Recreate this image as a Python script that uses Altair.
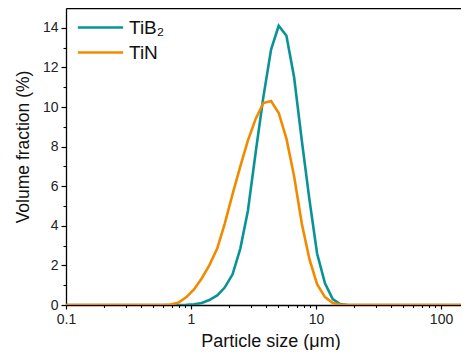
import altair as alt
import pandas as pd

# particle size bins (µm)
sizes = [0.1, 0.6, 0.69, 0.8, 0.92, 1.06, 1.22, 1.4, 1.62, 1.86, 2.15, 2.48, 2.85,
         3.29, 3.79, 4.37, 5.03, 5.8, 6.68, 7.7, 8.87, 10.2, 11.8, 13.6, 15.6, 18.0, 170]
# volume fraction (%)
tib2 = [0, 0, 0, 0, 0.01, 0.04, 0.1, 0.25, 0.48, 0.88, 1.55, 2.85, 4.75,
        7.7, 10.5, 12.9, 14.1, 13.6, 11.5, 8.3, 5.3, 2.6, 1.1, 0.3, 0.05, 0, 0]
tin = [0, 0, 0.02, 0.13, 0.4, 0.8, 1.35, 2.0, 2.85, 4.1, 5.6, 7.0, 8.3,
       9.4, 10.2, 10.3, 9.7, 8.4, 6.5, 4.1, 2.3, 1.05, 0.4, 0.1, 0.02, 0, 0]

series_names = ["TiB₂", "TiN"]
series_colors = ["#0a9396", "#f28a00"]

x_major = [0.1, 1, 10, 100]
x_minor = [0.2, 0.3, 0.4, 0.5, 0.6, 0.7, 0.8, 0.9,
           2, 3, 4, 5, 6, 7, 8, 9,
           20, 30, 40, 50, 60, 70, 80, 90]
y_major = [0, 2, 4, 6, 8, 10, 12, 14]
y_minor = [1, 3, 5, 7, 9, 11, 13]

rows = []
for s, a, b in zip(sizes, tib2, tin):
    rows.append({"size": s, "vol": a, "series": series_names[0]})
    rows.append({"size": s, "vol": b, "series": series_names[1]})
df = pd.DataFrame(rows)

FONT = "Liberation Sans"
xscale = alt.Scale(type="log", domain=[0.1, 144.5], nice=False)
yscale = alt.Scale(domain=[0, 15], nice=False, zero=True)

lines = alt.Chart(df).mark_line(strokeWidth=2.6, clip=True).encode(
    x=alt.X("size:Q", scale=xscale, axis=alt.Axis(
        orient="bottom", values=x_major, format="~g", title="Particle size (μm)",
        grid=False, tickSize=4, tickWidth=1.2, tickColor="black", domainColor="black",
        domainWidth=1.3, labelFont=FONT, labelFontSize=14, labelColor="#222",
        labelPadding=3, titleFont=FONT, titleFontSize=18, titleFontWeight="normal",
        titleColor="#111", titleX=204.5, titleY=27, titleBaseline="top",
        titleAlign="center", labelFlush=False)),
    y=alt.Y("vol:Q", scale=yscale, axis=alt.Axis(
        orient="left", values=y_major, title="Volume fraction (%)",
        grid=False, tickSize=5, tickWidth=1.2, tickColor="black", domainColor="black",
        domainWidth=1.3, labelFont=FONT, labelFontSize=14, labelColor="#222",
        labelPadding=3, titleFont=FONT, titleFontSize=17.5, titleFontWeight="normal",
        titleColor="#111", titlePadding=10, titleY=138.5)),
    color=alt.Color("series:N", scale=alt.Scale(domain=series_names, range=series_colors),
                    legend=alt.Legend(
                        title=None, orient="none", legendX=25, legendY=10,
                        symbolType="M-4,0H4", symbolSize=128, symbolStrokeWidth=2.6,
                        labelOffset=19, labelFont=FONT, labelFontSize=19,
                        labelColor="#111", rowPadding=5, padding=0)),
)

minor = alt.Chart(df).mark_point(opacity=0).encode(
    x=alt.X("size:Q", scale=xscale, axis=alt.Axis(
        orient="bottom", values=x_minor, labels=False, title=None, grid=False,
        domain=False, tickSize=2.5, tickWidth=1.1, tickColor="black")),
    y=alt.Y("vol:Q", scale=yscale, axis=alt.Axis(
        orient="left", values=y_minor, labels=False, title=None, grid=False,
        domain=False, tickSize=3, tickWidth=1.1, tickColor="black")),
)

top = alt.Chart(df).mark_point(opacity=0).encode(
    x=alt.X("size:Q", scale=xscale, axis=alt.Axis(
        orient="top", labels=False, ticks=False, title=None, grid=False,
        domain=True, domainColor="black", domainWidth=1.3)),
    y=alt.Y("vol:Q", scale=yscale, axis=None),
)

chart = alt.layer(lines, minor, top).resolve_axis(
    x="independent", y="independent"
).properties(
    width=395, height=297,
    padding={"left": 58, "top": 0, "right": 0, "bottom": 45},
    autosize=alt.AutoSizeParams(type="none"),
).configure_view(stroke=None)

chart.save("out.html", embed_options={"renderer": "svg", "actions": False})
